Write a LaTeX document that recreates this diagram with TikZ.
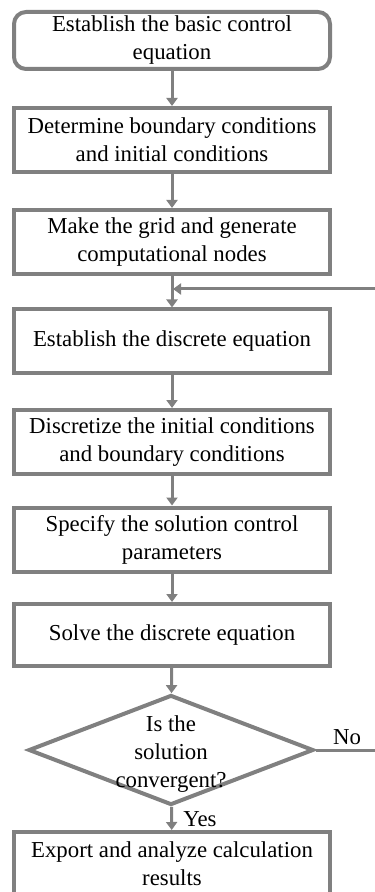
\documentclass[tikz,border=0pt]{standalone}
\usepackage{fontspec}
\setmainfont{Liberation Serif}
\usetikzlibrary{shapes.geometric,arrows.meta}
\definecolor{flowgray}{RGB}{128,128,128}
\begin{document}
\begin{tikzpicture}[x=0.5pt, y=-0.5pt,
    every node/.style={font=\fontsize{11.4}{14}\selectfont},
    stepbox/.style={draw=flowgray, line width=2pt, fill=white, minimum width=158pt,
        minimum height=32pt, align=center, inner sep=0pt},
    decision/.style={diamond, draw=flowgray, line width=2pt, minimum width=142.5pt,
        minimum height=55pt, inner sep=0pt},
    flow/.style={draw=flowgray, line width=1.5pt, -{Triangle[length=4pt, width=5.5pt]}}]
    \useasboundingbox (0,0) rectangle (374,892);
    % process steps
    \node[stepbox, rounded corners=6pt, minimum height=28.5pt] (basic) at (172,40.5) {Establish the basic control\\equation};
    \node[stepbox] (bound) at (172,140) {Determine boundary conditions\\and initial conditions};
    \node[stepbox] (grid) at (172,242) {Make the grid and generate\\computational nodes};
    \node[stepbox] (discrete) at (172,341.5) {Establish the discrete equation};
    \node[stepbox] (initial) at (172,442) {Discretize the initial conditions\\and boundary conditions};
    \node[stepbox] (params) at (172,539.5) {Specify the solution control\\parameters};
    \node[stepbox, minimum height=31pt] (solve) at (172,635) {Solve the discrete equation};
    \node[decision] (conv) at (171,750) {};
    \node[align=center] (convtext) at (171,754) {Is the\\solution\\convergent?};
    \node[stepbox] (export) at (172,864) {Export and analyze calculation\\results};
    \node (no) at (347,737) {No};
    \node (yes) at (200,819) {Yes};
    % connectors
    \draw[flow] (basic) -- (bound);
    \draw[flow] (bound) -- (grid);
    \draw[flow] (grid) -- (discrete);
    \draw[flow] (discrete) -- (initial);
    \draw[flow] (initial) -- (params);
    \draw[flow] (params) -- (solve);
    \draw[flow] (solve) -- (conv);
    \draw[flow] (conv) -- (export);
    % loop back when not convergent
    \coordinate (join) at (173,289);
    \coordinate (back) at (384,289);
    \draw[flow] (conv.east) -| (back) -- (join);
\end{tikzpicture}
\end{document}
